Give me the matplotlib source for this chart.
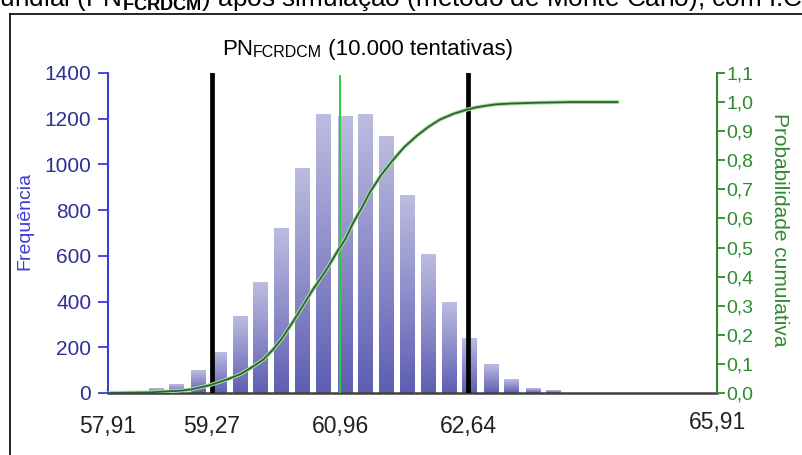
import numpy as np
import matplotlib
matplotlib.use("Agg")
import matplotlib.pyplot as plt
from matplotlib.colors import LinearSegmentedColormap
from matplotlib.lines import Line2D

plt.rcParams['font.family'] = ['Liberation Sans', 'DejaVu Sans']
plt.rcParams['mathtext.fontset'] = 'custom'
plt.rcParams['mathtext.rm'] = 'Liberation Sans'
plt.rcParams['mathtext.bf'] = 'Liberation Sans:bold'

# histogram
bin_centers = [58.54, 58.81, 59.09, 59.37, 59.64, 59.91, 60.19, 60.46, 60.74, 61.02,
               61.29, 61.56, 61.84, 62.11, 62.39, 62.66, 62.94, 63.21, 63.49, 63.76]
counts = [18, 38, 98, 176, 334, 483, 719, 983, 1219, 1209,
          1219, 1121, 862, 607, 395, 239, 125, 61, 18, 10]

# cumulative probability curve
cdf_x = [57.91, 58.46, 58.86, 59.0, 59.25, 59.51, 59.65, 59.81, 59.95, 60.08,
         60.2, 60.34, 60.47, 60.60, 60.77, 60.93, 61.03, 61.13, 61.24, 61.35,
         61.5, 61.65, 61.8, 61.97, 62.12, 62.27, 62.45, 62.61, 62.75, 62.89,
         63.0, 63.2, 63.58, 64.0, 64.60]
cdf_y = [0.0, 0.002, 0.008, 0.012, 0.027, 0.05, 0.065, 0.09, 0.115, 0.15,
         0.19, 0.245, 0.30, 0.355, 0.42, 0.49, 0.53, 0.585, 0.635, 0.69,
         0.75, 0.80, 0.845, 0.885, 0.915, 0.94, 0.96, 0.973, 0.982, 0.988,
         0.992, 0.995, 0.998, 1.0, 1.0]

lower, mean, upper = 59.27, 60.96, 62.64
xticks = [57.91, 59.27, 60.96, 62.64]
xticklabels = ["57,91", "59,27", "60,96", "62,64"]
xmax, xmax_label = 65.91, "65,91"
freq_ticks = [0, 200, 400, 600, 800, 1000, 1200, 1400]
prob_ticks = [0.0, 0.1, 0.2, 0.3, 0.4, 0.5, 0.6, 0.7, 0.8, 0.9, 1.0, 1.1]
prob_labels = ["0,0", "0,1", "0,2", "0,3", "0,4", "0,5", "0,6", "0,7", "0,8", "0,9", "1,0", "1,1"]

blue = "#3c3cd8"
green = "#2f8a2f"

fig = plt.figure(figsize=(8.02, 4.55), dpi=100)
ax = fig.add_axes([0.1347, 0.1363, 0.7594, 0.7033])

# bars with vertical gradient
cmap = LinearSegmentedColormap.from_list("barg", ["#5e5eb4", "#bcbce0"])
grad = np.linspace(0, 1, 100).reshape(-1, 1)
w = 0.19
for c, h in zip(bin_centers, counts):
    ax.imshow(grad, extent=[c - w / 2, c + w / 2, 0, h], origin='lower',
              aspect='auto', cmap=cmap, zorder=2)

ax.axvline(lower, color='black', lw=3.4, zorder=4)
ax.axvline(upper, color='black', lw=3.4, zorder=4)
ax.plot([mean, mean], [0, 1387], color='#33cc33', lw=1.4, zorder=4)

ax.set_xlim(57.91, xmax)
ax.set_ylim(0, 1400)
ax.set_xticks(xticks)
ax.set_xticklabels(xticklabels, fontsize=16.5, color='#222222')
ax.tick_params(axis='x', length=0, pad=16)
ax.annotate(xmax_label, xy=(xmax, 0), xytext=(0, -13), textcoords='offset points',
            ha='center', va='top', fontsize=16.5, color='#222222', annotation_clip=False)
ax.set_yticks(freq_ticks)
ax.tick_params(axis='y', colors=blue, labelsize=15, length=7, width=1.3, pad=5)
for lab in ax.get_yticklabels():
    lab.set_color('#2e2e96')
ax.set_ylabel("Frequência", color=blue, fontsize=14)
ax.yaxis.set_label_coords(-0.123, 0.5375)

for s in ['top', 'right']:
    ax.spines[s].set_visible(False)
ax.spines['left'].set_color(blue)
ax.spines['left'].set_linewidth(1.5)
ax.spines['bottom'].set_color('#404040')
ax.spines['bottom'].set_linewidth(1.8)

ax2 = ax.twinx()
ax2.plot(cdf_x, cdf_y, color='#a8e08a', lw=2.8, zorder=5)
ax2.plot(cdf_x, cdf_y, color='#2a5e48', lw=1.3, zorder=6)
ax2.set_ylim(0, 1.1)
ax2.set_yticks(prob_ticks)
ax2.set_yticklabels(prob_labels)
ax2.tick_params(axis='y', colors=green, labelsize=14, length=5.5, width=1.3, pad=1)
for s in ['top', 'left', 'bottom']:
    ax2.spines[s].set_visible(False)
ax2.spines['right'].set_color(green)
ax2.spines['right'].set_linewidth(1.5)
ax2.set_ylabel("Probabilidade cumulativa", color=green, fontsize=15,
               rotation=-90, va='bottom')
ax2.yaxis.set_label_coords(1.087, 0.51)

# title with small-caps part
t1 = fig.text(0.277, 0.879, "PN", fontsize=16, va='baseline', ha='left')
t2 = ax.annotate("FCRDCM", xy=(1, 0), xycoords=t1, fontsize=11.5,
                 va='bottom', ha='left', annotation_clip=False)
ax.annotate(" (10.000 tentativas)", xy=(1, 0), xycoords=t2, fontsize=16,
            va='bottom', ha='left', annotation_clip=False)

# caption cut off at the top of the picture
fig.text(-0.028, 0.987,
         r"Mundial (PN$_{\mathbf{FCRDCM}}$) após simulação (método de Monte Carlo), com I.C. de 95%",
         fontsize=18.8, va='baseline', ha='left', color='black')

# frame
fig.add_artist(Line2D([10 / 802, 10 / 802], [0, 441 / 455], color='black', lw=1.2))
fig.add_artist(Line2D([10 / 802, 1], [441 / 455, 441 / 455], color='black', lw=1.2))

fig.savefig("out.png", dpi=100)
